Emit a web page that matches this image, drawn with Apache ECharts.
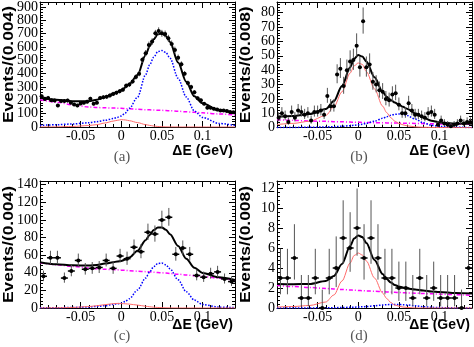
<!DOCTYPE html>
<html>
<head>
<meta charset="utf-8">
<script src="https://cdn.jsdelivr.net/npm/echarts@6/dist/echarts.min.js"></script>
<style>
  html, body { margin: 0; padding: 0; background: #fff; }
  #chart { width: 474px; height: 347px; }
</style>
</head>
<body>
<div id="chart"></div>
<script>
// x range of every panel (GeV)
const xMin = -0.1
const xMax = 0.14

const curveX = [-0.1, -0.08, -0.06, -0.04, -0.03, -0.02, -0.01, -0.005, 0, 0.005, 0.01, 0.02, 0.03, 0.035, 0.04, 0.045, 0.05, 0.055, 0.06, 0.07, 0.08, 0.09, 0.1, 0.12, 0.14]

// (a)
const countsA = [231, 211, 218, 201, 198, 161, 194, 194, 198, 181, 169, 161, 176, 181, 190, 211, 174, 181, 218, 223, 226, 236, 248, 256, 268, 280, 310, 318, 342, 375, 400, 504, 553, 615, 640, 702, 720, 702, 697, 665, 623, 578, 520, 470, 400, 330, 300, 260, 215, 200, 174, 144, 144, 136, 132, 124, 124, 119, 112, 110]
const errA = [15, 15, 15, 14, 14, 13, 14, 14, 14, 13, 13, 13, 13, 13, 14, 15, 13, 13, 15, 15, 15, 15, 16, 16, 16, 17, 18, 18, 18, 19, 20, 22, 24, 25, 25, 26, 27, 26, 26, 26, 25, 24, 23, 22, 20, 18, 17, 16, 15, 14, 13, 12, 12, 12, 11, 11, 11, 11, 11, 10]
const totalA = [220, 205, 193, 193, 204, 224, 249, 263, 277, 296, 323, 389, 540, 607, 657, 695, 702, 682, 638, 483, 339, 230, 178, 125, 102]
const blueA = [12, 17, 23, 32, 40, 50, 63, 72, 82, 105, 140, 223, 392, 466, 523, 565, 573, 558, 516, 365, 225, 120, 72, 27, 12]
const redA = [0, 1, 4, 11, 18, 30, 44, 50, 55, 53, 47, 33, 18, 12, 7, 4, 2, 1, 0.5, 0, 0, 0, 0, 0, 0]
const magA = [205, 186, 166, 150, 146, 144, 142, 141, 140, 138, 136, 133, 130, 129, 127, 126, 125, 123, 122, 118, 114, 110, 106, 98, 90]

// (b)
const countsB = [7, 10, 8, 4, 11, 7, 12, 11, 9, 10, 5, 11, 11, 12, 9, 22, 15, 15, 37, 41, 29, 40, 46, 47, 57, 42, 74, 42, 44, 32, 30, 26, 25, 20, 19, 23, 24, 16, 10, 10, 17, 12, 9, 9, 8, 7, 10, 11, 9, 2, 5, 3, 2, 1, 2, 3, 5, 3, 4, 4]
const loB = [2.6, 3.1, 2.8, 1.9, 3.3, 2.6, 3.4, 3.3, 2.9, 3.1, 2.2, 3.3, 3.3, 3.4, 2.9, 4.7, 3.8, 3.8, 6.1, 6.4, 5.4, 6.3, 6.8, 6.8, 7.5, 6.5, 8.6, 6.5, 6.6, 5.6, 5.4, 5.1, 5.0, 4.4, 4.3, 4.8, 4.9, 3.9, 3.1, 3.1, 4.1, 3.4, 2.9, 2.9, 2.8, 2.6, 3.1, 3.3, 2.9, 1.3, 2.2, 1.6, 1.3, 0.8, 1.3, 1.6, 2.2, 1.6, 1.9, 1.9]
const hiB = [3.8, 4.3, 3.9, 3.2, 4.4, 3.8, 4.5, 4.4, 4.1, 4.3, 3.4, 4.4, 4.4, 4.5, 4.1, 5.7, 4.9, 4.9, 7.1, 7.4, 6.4, 7.4, 7.8, 7.9, 8.6, 7.5, 9.6, 7.5, 7.7, 6.7, 6.5, 6.1, 6.0, 5.5, 5.4, 5.8, 5.9, 5.0, 4.3, 4.3, 5.2, 4.5, 4.1, 4.1, 3.9, 3.8, 4.3, 4.4, 4.1, 2.6, 3.4, 2.9, 2.6, 2.3, 2.6, 2.9, 3.4, 2.9, 3.2, 3.2]
const totalB = [7.8, 8.2, 9.5, 13, 18.5, 29, 42, 48, 50.5, 49.5, 46, 35, 25, 21.5, 19.3, 17.5, 16, 14.5, 13.2, 10, 7, 4.8, 3.7, 3, 2.7]
const redB = [2.2, 3, 4.5, 8.5, 14.5, 25, 38, 43, 45, 44, 39, 27, 15, 10.5, 7, 4.5, 3, 2, 1.3, 0.6, 0.3, 0.2, 0.1, 0, 0]
const blueB = [0.1, 0.2, 0.3, 0.5, 0.7, 1, 1.4, 1.7, 2, 2.4, 3, 4.5, 6.5, 7.6, 8.6, 9.3, 9.5, 9.3, 8.5, 6, 3.4, 1.7, 0.9, 0.3, 0.1]
const magB = [5.5, 5.1, 4.7, 4.4, 4.2, 4.1, 3.9, 3.85, 3.8, 3.7, 3.65, 3.5, 3.4, 3.35, 3.3, 3.25, 3.2, 3.15, 3.1, 3, 2.85, 2.7, 2.6, 2.5, 2.4]

// (c)
const countsC = [36, 57, 57, 34, 42, 54, 44, 45, 46, 54, 45, 59, 56, 69, 64, 86, 84, 100, 103, 61, 68, 61, 37, 35, 39, 41, 33, 30]
const loC = [5.5, 7, 7, 5.3, 6, 6.8, 6.1, 6.2, 6.3, 6.8, 6.2, 7.2, 7, 7.8, 7.5, 8.8, 8.7, 9.5, 9.6, 7.3, 7.7, 7.3, 5.6, 5.4, 5.7, 5.9, 5.2, 5]
const hiC = [6.5, 8, 8, 6.3, 7, 7.8, 7.1, 7.2, 7.3, 7.8, 7.2, 8.2, 8, 8.8, 8.5, 9.8, 9.7, 10.5, 10.6, 8.3, 8.7, 8.3, 6.6, 6.4, 6.7, 6.9, 6.2, 6]
const totalC = [52, 49.7, 48.4, 48.3, 48.9, 50.4, 52, 52.8, 53.5, 55, 57.3, 65, 77, 83, 88.5, 91.4, 91.4, 88.8, 83.8, 70.4, 56, 45.7, 39.8, 34.8, 31.9]
const blueC = [0.2, 0.3, 0.6, 1.2, 1.8, 2.6, 4, 4.8, 5.5, 7.5, 10.5, 20.5, 34, 41, 47, 50.5, 51, 49, 44.5, 32, 18.5, 9, 4, 1, 0.4]
const redC = [0, 0.2, 0.6, 1.6, 2.6, 3.8, 4.9, 5.2, 5, 4.8, 4.4, 3.3, 2, 1.4, 0.9, 0.6, 0.4, 0.2, 0.1, 0, 0, 0, 0, 0, 0]
const magC = [51.5, 49.2, 47.2, 45.5, 44.5, 44, 43.6, 43.3, 43, 42.7, 42.4, 41.8, 41.3, 41, 40.6, 40.3, 40, 39.6, 39.2, 38.4, 37.6, 36.7, 35.8, 33.8, 31.5]

// (d)
const countsD = [3, 3, 5, 1, 1, 3, 0, 3, 4, 7, 6, 8, 5, 7, 5, 3, 3, 2, 2, 1, 3, 1, 2, 1, 1, 1, 0, 4]
const loD = [1.63, 1.63, 2.16, 0.83, 0.83, 1.63, 0, 1.63, 1.91, 2.58, 2.38, 2.77, 2.16, 2.58, 2.16, 1.63, 1.63, 1.29, 1.29, 0.83, 1.63, 0.83, 1.29, 0.83, 0.83, 0.83, 0, 1.91]
const hiD = [2.92, 2.92, 3.38, 2.3, 2.3, 2.92, 1.84, 2.92, 3.16, 3.77, 3.58, 3.95, 3.38, 3.77, 3.38, 2.92, 2.92, 2.64, 2.64, 2.3, 2.92, 2.3, 2.64, 2.3, 2.3, 2.3, 1.84, 3.16]
const totalD = [2.4, 2.38, 2.4, 2.7, 3.2, 4.4, 6.2, 6.95, 7.25, 7.1, 6.5, 4.8, 3.4, 2.9, 2.55, 2.3, 2.15, 2.05, 1.95, 1.85, 1.75, 1.65, 1.6, 1.5, 1.45]
const blueD = [0, 0, 0.01, 0.02, 0.03, 0.05, 0.07, 0.08, 0.1, 0.12, 0.15, 0.22, 0.3, 0.33, 0.35, 0.36, 0.35, 0.33, 0.3, 0.22, 0.13, 0.07, 0.04, 0.01, 0]
const redD = [0.1, 0.15, 0.25, 0.6, 1.3, 2.7, 4.5, 5.25, 5.5, 5.3, 4.7, 3, 1.5, 0.95, 0.55, 0.3, 0.18, 0.1, 0.06, 0, 0, 0, 0, 0, 0]
const magD = [2.25, 2.15, 2.05, 1.95, 1.9, 1.85, 1.8, 1.78, 1.75, 1.73, 1.71, 1.67, 1.63, 1.61, 1.59, 1.57, 1.55, 1.53, 1.51, 1.48, 1.45, 1.42, 1.39, 1.33, 1.27]

const SERIF = '"Liberation Serif", "DejaVu Serif", serif'
const SANS = '"Liberation Sans", Arial, sans-serif'

const panels = [
  { grid: { left: 40, top: 2, width: 195, height: 125 }, yMax: 937, yStep: 100, yTitle: 'Events/(0.004)', caption: '(a)', titleY: 151, capY: 157,
    counts: countsA, lo: errA, hi: errA, total: totalA, blue: blueA, red: redA, mag: magA },
  { grid: { left: 277, top: 2, width: 195, height: 125.7 }, yMax: 87.4, yStep: 10, yTitle: 'Events/(0.008)', caption: '(b)', titleY: 151, capY: 157,
    counts: countsB, lo: loB, hi: hiB, total: totalB, blue: blueB, red: redB, mag: magB },
  { grid: { left: 40, top: 181, width: 195, height: 127 }, yMax: 144.2, yStep: 20, yTitle: 'Events/(0.004)', caption: '(c)', titleY: 325, capY: 336,
    counts: countsC, lo: loC, hi: hiC, total: totalC, blue: blueC, red: redC, mag: magC },
  { grid: { left: 277, top: 181, width: 195, height: 127 }, yMax: 12.7, yStep: 2, yTitle: 'Events/(0.008)', caption: '(d)', titleY: 325, capY: 336,
    counts: countsD, lo: loD, hi: hiD, total: totalD, blue: blueD, red: redD, mag: magD }
]

const chart = echarts.init(document.getElementById('chart'), null, { renderer: 'canvas' })

function tickStyle(len) {
  return { show: true, inside: true, length: len, lineStyle: { color: '#000', width: 1 } }
}

function renderPoint(params, api) {
  const x = api.value(0)
  const y = api.value(1)
  const hw = api.value(4)
  const c = api.coord([x, y])
  const top = api.coord([x, y + api.value(3)])
  const bot = api.coord([x, y - api.value(2)])
  const l = api.coord([x - hw, y])
  const r = api.coord([x + hw, y])
  return {
    type: 'group',
    children: [
      { type: 'line', shape: { x1: c[0], y1: top[1], x2: c[0], y2: bot[1] }, style: { stroke: '#555', lineWidth: 1 } },
      { type: 'line', shape: { x1: l[0], y1: c[1], x2: r[0], y2: c[1] }, style: { stroke: '#000', lineWidth: 1.5 } },
      { type: 'circle', shape: { cx: c[0], cy: c[1], r: 2 }, style: { fill: '#000' } }
    ]
  }
}

const labelFont = { color: '#000', fontFamily: SERIF, fontSize: 14, margin: 2, hideOverlap: false }
const grids = [], xAxes = [], yAxes = [], series = [], graphic = []

panels.forEach((p, k) => {
  grids.push(Object.assign({ containLabel: false, outerBoundsMode: 'none' }, p.grid))

  const xBase = {
    gridIndex: k, type: 'value', min: xMin, max: xMax, interval: 0.05,
    axisLine: { show: true, onZero: false, lineStyle: { color: '#000', width: 1 } },
    axisTick: tickStyle(6),
    minorTick: { show: true, splitNumber: 5, length: 3, lineStyle: { color: '#000', width: 1 } },
    splitLine: { show: false }, minorSplitLine: { show: false }
  }
  xAxes.push(Object.assign({}, xBase, {
    position: 'bottom',
    axisLabel: Object.assign({
      show: true, showMinLabel: false, showMaxLabel: false,
      formatter: v => (Math.abs(v) < 1e-9 ? '0' : String(+v.toFixed(3)))
    }, labelFont)
  }))
  xAxes.push(Object.assign({}, xBase, { position: 'top', axisLabel: { show: false } }))

  const yBase = {
    gridIndex: k, type: 'value', min: 0, max: p.yMax, interval: p.yStep,
    axisLine: { show: true, onZero: false, lineStyle: { color: '#000', width: 1 } },
    axisTick: tickStyle(6),
    minorTick: { show: true, splitNumber: 5, length: 3, lineStyle: { color: '#000', width: 1 } },
    splitLine: { show: false }, minorSplitLine: { show: false }
  }
  // labels above zero
  yAxes.push(Object.assign({}, yBase, {
    position: 'left',
    axisLabel: Object.assign({ show: true, showMinLabel: false, showMaxLabel: false }, labelFont)
  }))
  yAxes.push(Object.assign({}, yBase, { position: 'right', axisLabel: { show: false } }))
  // the "0" label on its own, so the crowded ticks above it are not dropped
  yAxes.push({
    gridIndex: k, type: 'value', position: 'left', offset: 0, min: 0, max: p.yMax, interval: p.yMax,
    axisLine: { show: false }, axisTick: { show: false }, minorTick: { show: false },
    splitLine: { show: false },
    axisLabel: Object.assign({ show: true, showMinLabel: true, showMaxLabel: false }, labelFont)
  })

  const ax = { xAxisIndex: 2 * k, yAxisIndex: 3 * k }
  const line = (arr, style, z) => Object.assign({
    type: 'line', data: curveX.map((x, i) => [x, arr[i]]), showSymbol: false, symbol: 'none',
    smooth: 0.3, smoothMonotone: 'x', silent: true, lineStyle: style, z: z
  }, ax)

  series.push(line(p.mag, { color: '#ff00ff', width: 1.5, type: [4, 2, 1, 2] }, 2))
  series.push(line(p.blue, { color: '#0000ff', width: 1.5, type: [1.5, 1.5] }, 2))
  series.push(line(p.red, { color: '#ff6a6a', width: 1 }, 2))
  series.push(line(p.total, { color: '#000', width: 2 }, 3))

  const bw = (xMax - xMin) / p.counts.length
  series.push(Object.assign({
    type: 'custom', renderItem: renderPoint, silent: true, z: 4,
    encode: { x: 0, y: 1 },
    data: p.counts.map((c, i) => [xMin + (i + 0.5) * bw, c, p.lo[i], p.hi[i], bw / 2])
  }, ax))

  const g = p.grid
  graphic.push({
    type: 'text', x: g.left - 31, y: g.top + g.height / 2, rotation: Math.PI / 2, scaleX: 1.2,
    style: { text: p.yTitle, font: 'bold 14.5px ' + SANS, fill: '#000', align: 'center', verticalAlign: 'middle', textAlign: 'center', textVerticalAlign: 'middle' }
  })
  graphic.push({
    type: 'text', x: g.left + g.width - 2, y: p.titleY,
    style: { text: 'ΔE (GeV)', font: 'bold 14px ' + SANS, fill: '#000', align: 'right', verticalAlign: 'middle', textAlign: 'right', textVerticalAlign: 'middle' }
  })
  graphic.push({
    type: 'text', x: g.left + 82, y: p.capY,
    style: { text: p.caption, font: '15px ' + SERIF, fill: '#555', align: 'center', verticalAlign: 'middle', textAlign: 'center', textVerticalAlign: 'middle' }
  })
})

chart.setOption({
  animation: false,
  backgroundColor: '#fff',
  grid: grids,
  xAxis: xAxes,
  yAxis: yAxes,
  series: series,
  graphic: graphic
})
</script>
</body>
</html>
